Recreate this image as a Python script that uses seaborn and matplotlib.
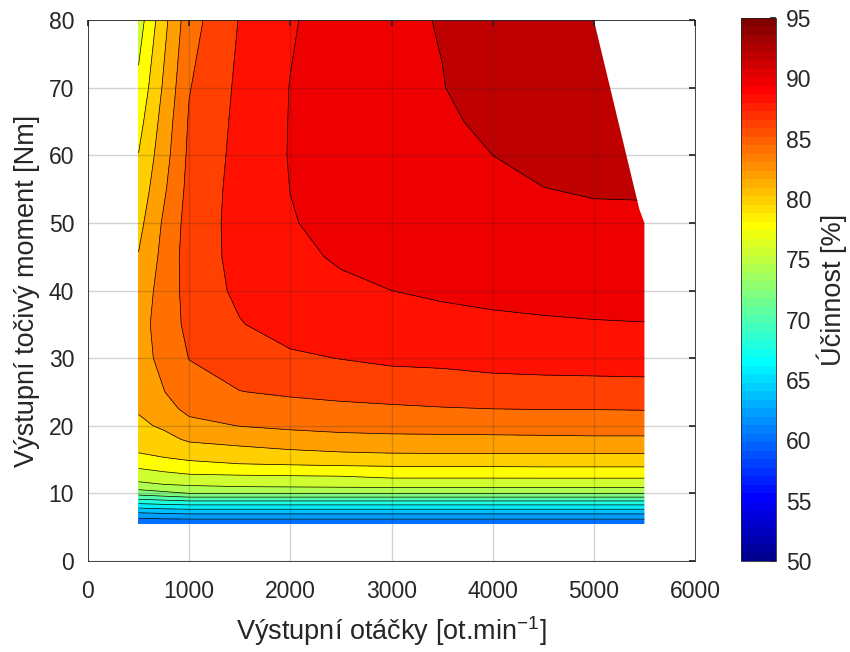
import numpy as np
import matplotlib
matplotlib.use('Agg')
import matplotlib.pyplot as plt
import seaborn as sns
from matplotlib.colors import ListedColormap, Normalize
from matplotlib.cm import ScalarMappable
from matplotlib.patches import Polygon

# measured grid: output speed [rpm] x output torque [Nm]
speed = [500, 750, 1000, 1500, 2000, 2500, 3000, 3500, 4000, 4500, 5000, 5500]
torque = [5.5, 6, 7, 8, 9, 10, 11, 12, 14, 16, 18, 20, 22.5, 25, 30, 35, 40, 45, 50, 55, 60, 65, 70, 80]

# efficiency [%], one row per torque value, columns follow speed
efficiency = [
    [60.5, 60.7, 60.8, 60.8, 60.8, 60.8, 60.8, 60.8, 60.8, 60.8, 60.8, 60.8],    # 5.5
    [61.3, 61.4, 61.5, 61.5, 61.5, 61.5, 61.5, 61.5, 61.5, 61.5, 61.5, 61.5],    # 6
    [63.6, 63.9, 64.1, 64.1, 64.1, 64.1, 64.1, 64.1, 64.1, 64.1, 64.1, 64.1],    # 7
    [66.5, 66.8, 67.0, 67.0, 67.0, 67.0, 67.0, 67.0, 67.0, 67.0, 67.0, 67.0],    # 8
    [69.6, 70.0, 70.4, 70.4, 70.4, 70.4, 70.4, 70.4, 70.4, 70.4, 70.4, 70.4],    # 9
    [72.8, 73.4, 74.0, 74.0, 74.0, 74.0, 74.0, 74.0, 74.0, 74.0, 74.0, 74.0],    # 10
    [75.0, 75.6, 75.8, 76.0, 76.1, 76.2, 76.3, 76.3, 76.3, 76.3, 76.3, 76.3],    # 11
    [76.4, 76.8, 77.0, 77.1, 77.2, 77.3, 77.7, 77.7, 77.7, 77.7, 77.7, 77.7],    # 12
    [78.3, 78.8, 79.4, 79.7, 79.8, 79.9, 80.0, 80.05, 80.05, 80.1, 80.1, 80.1],  # 14
    [80.0, 80.6, 80.8, 81.3, 81.6, 81.9, 82.05, 82.1, 82.1, 82.1, 82.1, 82.1],   # 16
    [80.8, 81.4, 82.3, 82.7, 83.3, 83.5, 83.6, 83.6, 83.6, 83.65, 83.7, 83.7],   # 18
    [81.6, 82.3, 83.4, 84.05, 84.3, 84.5, 84.6, 84.7, 84.8, 84.85, 84.9, 84.9],  # 20
    [82.2, 83.3, 84.5, 85.0, 85.3, 85.6, 85.75, 85.9, 86.0, 86.05, 86.05, 86.1], # 22.5
    [82.7, 83.95, 85.1, 85.95, 86.3, 86.5, 86.7, 86.85, 87.0, 87.1, 87.15, 87.2], # 25
    [83.3, 84.5, 86.05, 87.2, 87.7, 88.05, 88.4, 88.5, 88.8, 88.9, 88.95, 89.0], # 30
    [83.4, 84.7, 86.6, 87.9, 88.8, 89.0, 89.3, 89.5, 89.7, 89.8, 89.9, 89.95],   # 35
    [83.0, 84.7, 86.8, 88.4, 89.4, 89.75, 90.0, 90.25, 90.4, 90.55, 90.6, 90.65], # 40
    [82.1, 84.6, 86.9, 88.6, 89.7, 90.15, 90.5, 90.8, 91.0, 91.1, 91.2, 91.2],   # 45
    [81.4, 84.3, 86.8, 88.7, 89.9, 90.5, 90.9, 91.2, 91.45, 91.6, 91.75, 91.7],  # 50
    [80.7, 83.7, 86.6, 88.7, 90.02, 90.7, 91.2, 91.5, 91.75, 91.98, 92.1, 92.15], # 55
    [80.05, 83.2, 86.4, 88.6, 90.1, 90.85, 91.4, 91.7, 92.0, 92.3, 92.4, 92.5],  # 60
    [79.3, 82.8, 86.2, 88.5, 90.08, 90.95, 91.55, 91.85, 92.2, 92.45, 92.55, 92.65], # 65
    [78.5, 82.3, 85.9, 88.4, 90.05, 91.0, 91.7, 91.97, 92.4, 92.6, 92.7, 92.8],  # 70
    [77.0, 81.4, 85.2, 88.1, 89.8, 91.0, 91.8, 92.05, 92.7, 92.8, 92.9, 93.0],   # 80
]

# maximum torque limit at high speed
limit_speed = [5000, 5450, 5500]
limit_torque = [80, 52, 50]

levels = np.arange(60, 96, 2)
cbar_ticks = list(range(50, 96, 5))


def matlab_jet(n=64):
    m = int(np.ceil(n / 4))
    u = np.r_[np.arange(1, m + 1) / m, np.ones(m - 1), np.arange(m, 0, -1) / m]
    g = int(np.ceil(m / 2)) - (n % 4 == 1) + np.arange(1, len(u) + 1)
    J = np.zeros((n, 3))
    for col, idx in ((0, g + m), (1, g), (2, g - m)):
        ok = (idx >= 1) & (idx <= n)
        J[idx[ok] - 1, col] = u[ok]
    return ListedColormap(J)


sns.set_theme(style='whitegrid')
plt.rcParams['font.family'] = ['Liberation Sans', 'DejaVu Sans']
plt.rcParams['mathtext.fontset'] = 'custom'
plt.rcParams['mathtext.rm'] = 'Liberation Sans'
plt.rcParams['mathtext.default'] = 'regular'

dark = '#262626'
fig = plt.figure(figsize=(8.5, 6.52), dpi=100)
ax = fig.add_axes([88 / 850, 1 - 561 / 652, (695 - 88) / 850, (561 - 20) / 652])
cax = fig.add_axes([741 / 850, 1 - 561 / 652, 35 / 850, (561 - 18) / 652])
ax.set_facecolor('white')

cmap = matlab_jet(64)
norm = Normalize(50, 95)
band_colors = [cmap(norm(v)) for v in levels[:-1]]

X, Y = np.meshgrid(speed, torque)
Z = np.array(efficiency)
cf = ax.contourf(X, Y, Z, levels=levels, colors=band_colors)
cl = ax.contour(X, Y, Z, levels=levels, colors='black', linewidths=0.5)

# cut off the region above the max torque curve
verts = [(0, 0), (0, 100), (limit_speed[0], 100)] + list(zip(limit_speed, limit_torque)) + [(limit_speed[-1], 0)]
clip = Polygon(verts, closed=True, transform=ax.transData, facecolor='none', edgecolor='none')
ax.add_patch(clip)
cf.set_clip_path(clip)
cl.set_clip_path(clip)

ax.set_xlim(0, 6000)
ax.set_ylim(0, 80)
ax.set_xticks(range(0, 6001, 1000))
ax.set_yticks(range(0, 81, 10))
ax.set_axisbelow(False)
ax.grid(True, color=dark, alpha=0.2, linewidth=1.0)
ax.tick_params(direction='in', length=4, top=True, right=True, labelsize=16.5,
               color=dark, labelcolor=dark)
ax.tick_params(axis='x', pad=14)
ax.tick_params(axis='y', pad=10)
for sp in ax.spines.values():
    sp.set_color(dark)
    sp.set_linewidth(0.6)
ax.set_xlabel(r'Výstupní otáčky [ot.min$^{-1}$]', fontsize=19.5, color=dark, labelpad=8)
ax.set_ylabel('Výstupní točivý moment [Nm]', fontsize=19.5, color=dark, labelpad=6)

cb = fig.colorbar(ScalarMappable(norm=norm, cmap=cmap), cax=cax, ticks=cbar_ticks)
cb.outline.set_edgecolor(dark)
cb.outline.set_linewidth(0.6)
cax.tick_params(direction='in', length=4, labelsize=16.5, color=dark, labelcolor=dark, pad=7)
cb.set_label('Účinnost [%]', fontsize=19.5, color=dark, labelpad=4)

fig.savefig('out.png', dpi=100)
